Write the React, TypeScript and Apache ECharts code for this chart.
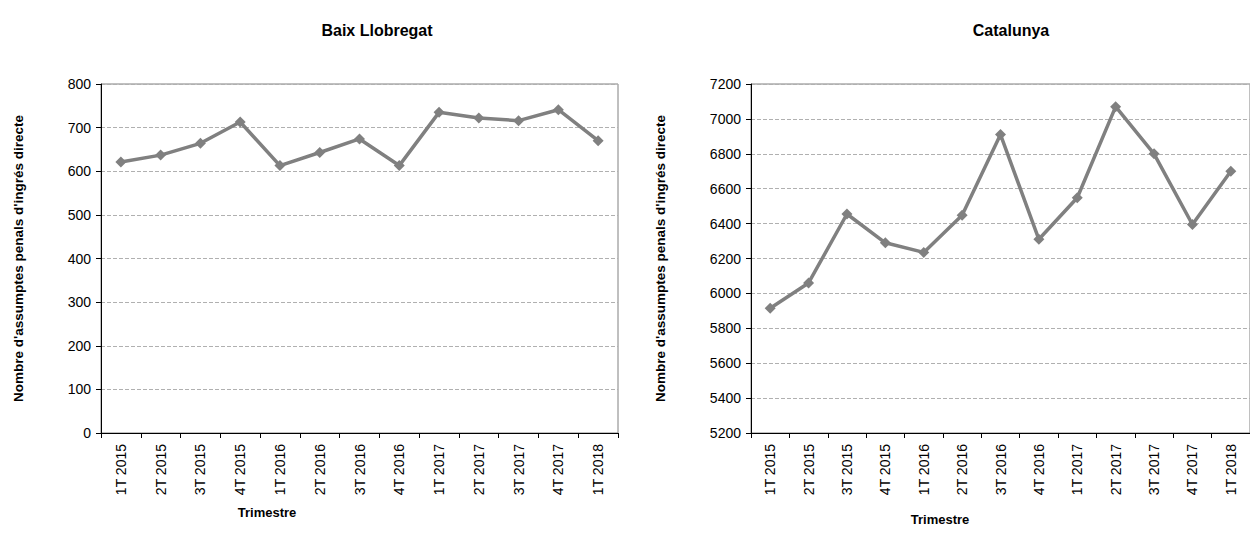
import React, { useEffect, useRef } from "react";
import * as echarts from "echarts";

const categories = [
  "1T 2015", "2T 2015", "3T 2015", "4T 2015",
  "1T 2016", "2T 2016", "3T 2016", "4T 2016",
  "1T 2017", "2T 2017", "3T 2017", "4T 2017", "1T 2018",
];
const baixLlobregat = [621, 637, 664, 713, 613, 643, 674, 613, 735, 722, 716, 741, 670];
const catalunya = [5915, 6060, 6455, 6290, 6235, 6448, 6910, 6310, 6548, 7070, 6800, 6395, 6700];
const titles = ["Baix Llobregat", "Catalunya"];
const yAxisName = "Nombre d'assumptes penals d'ingrés directe";
const xAxisName = "Trimestre";

const FONT = "'Liberation Sans', Arial, sans-serif";

export default function App() {
  const ref = useRef<HTMLDivElement>(null);
  useEffect(() => {
    if (!ref.current) return;
    const chart = echarts.init(ref.current, null, { renderer: "svg" });
    const grids = [
      { left: 101, top: 84, width: 517, height: 349 },
      { left: 751, top: 84, width: 510, height: 349 },
    ];
    const yRanges = [
      { min: 0, max: 800, interval: 100 },
      { min: 5200, max: 7200, interval: 200 },
    ];
    const data = [baixLlobregat, catalunya];
    chart.setOption({
      animation: false,
      textStyle: { fontFamily: FONT },
      title: [
        { text: titles[0], left: 372, top: 17, textAlign: "center",
          textStyle: { fontSize: 16, fontWeight: "bold", color: "#000", fontFamily: FONT } },
        { text: titles[1], left: 1006, top: 17, textAlign: "center",
          textStyle: { fontSize: 16, fontWeight: "bold", color: "#000", fontFamily: FONT } },
      ],
      grid: grids.map((g) => ({ ...g, show: true, borderColor: "#808080", borderWidth: 1 })),
      xAxis: grids.map((_, i) => ({
        type: "category",
        gridIndex: i,
        data: categories,
        boundaryGap: true,
        axisLine: { lineStyle: { color: "#000", width: 1 } },
        axisTick: { show: true, length: 5, lineStyle: { color: "#000" } },
        axisLabel: { rotate: 90, color: "#000", fontSize: 14, fontFamily: FONT, margin: 11, interval: 0 },
        splitLine: { show: false },
      })),
      yAxis: grids.map((_, i) => ({
        type: "value",
        gridIndex: i,
        min: yRanges[i].min,
        max: yRanges[i].max,
        interval: yRanges[i].interval,
        name: yAxisName,
        nameLocation: "middle",
        nameRotate: 90,
        nameGap: i === 0 ? 76 : 84,
        nameTextStyle: { fontSize: 13.5, fontWeight: "bold", color: "#000", fontFamily: FONT },
        axisLine: { show: true, lineStyle: { color: "#000", width: 1 } },
        axisTick: { show: true, length: 5, lineStyle: { color: "#000" } },
        axisLabel: { color: "#000", fontSize: 14, fontFamily: FONT, margin: 10, formatter: (v: number) => String(v) },
        splitLine: { show: true, lineStyle: { color: "#b0b0b0", type: "dashed", width: 1 } },
      })),
      series: data.map((d, i) => ({
        type: "line",
        xAxisIndex: i,
        yAxisIndex: i,
        data: d,
        symbol: "diamond",
        symbolSize: 11,
        lineStyle: { color: "#808080", width: 3.5 },
        itemStyle: { color: "#808080" },
      })),
      graphic: [
        { type: "text", x: 267, y: 512, style: { text: xAxisName, fill: "#000", font: `bold 13px ${FONT}`, align: "center", verticalAlign: "middle" } },
        { type: "text", x: 940, y: 519, style: { text: xAxisName, fill: "#000", font: `bold 13px ${FONT}`, align: "center", verticalAlign: "middle" } },
      ],
    });
    return () => chart.dispose();
  }, []);
  return (
    <div
      ref={ref}
      style={{ position: "fixed", left: 0, top: 0, width: 1250, height: 543, background: "#fff" }}
    />
  );
}
